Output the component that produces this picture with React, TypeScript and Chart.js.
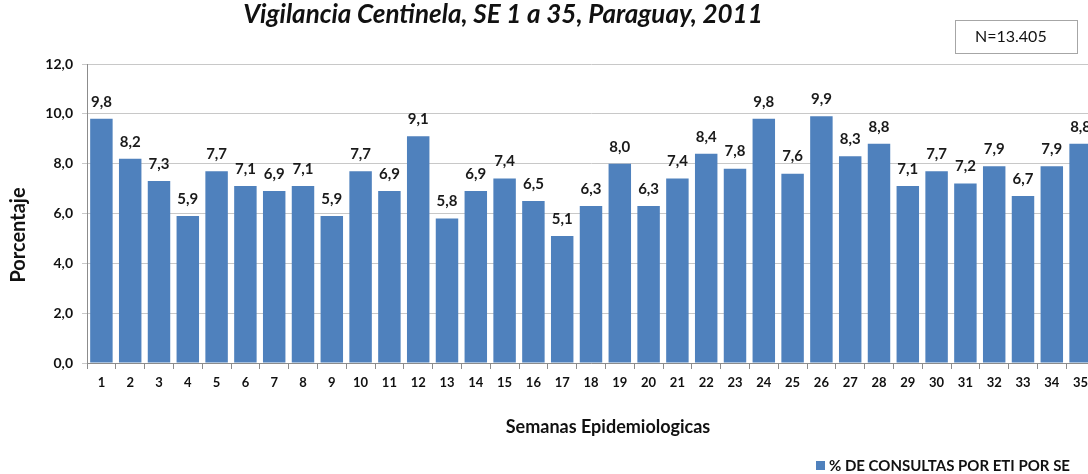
import React, { useEffect, useRef } from "react";
import { Chart, registerables } from "chart.js";

Chart.register(...registerables);

const categories = Array.from({ length: 35 }, (_, i) => String(i + 1));
const seriesValues = [
  9.8, 8.2, 7.3, 5.9, 7.7, 7.1, 6.9, 7.1, 5.9, 7.7, 6.9, 9.1, 5.8, 6.9, 7.4,
  6.5, 5.1, 6.3, 8.0, 6.3, 7.4, 8.4, 7.8, 9.8, 7.6, 9.9, 8.3, 8.8, 7.1, 7.7,
  7.2, 7.9, 6.7, 7.9, 8.8,
];
const seriesLabel = "% DE CONSULTAS POR ETI POR SE";
const titleText = "Vigilancia Centinela, SE 1 a 35, Paraguay, 2011";
const nText = "N=13.405";
const yTitle = "Porcentaje";
const xTitle = "Semanas Epidemiologicas";

const FONT = "Lato, 'Open Sans', sans-serif";
const BLUE = "#4F81BD";

const fmt = (v: number) => v.toFixed(1).replace(".", ",");

const decorPlugin = {
  id: "decor",
  afterDatasetsDraw(chart: any) {
    const ctx = chart.ctx;
    const meta = chart.getDatasetMeta(0);
    ctx.save();
    ctx.fillStyle = "#1a1a1a";
    ctx.font = `bold 15px ${FONT}`;
    ctx.textAlign = "center";
    ctx.textBaseline = "middle";
    meta.data.forEach((bar: any, i: number) => {
      ctx.fillText(fmt(seriesValues[i]), bar.x, bar.y - 17);
    });
    ctx.restore();
  },
  afterDraw(chart: any) {
    const ctx = chart.ctx;
    ctx.save();
    // title
    ctx.fillStyle = "#111";
    ctx.font = `italic bold 26px ${FONT}`;
    ctx.textAlign = "center";
    ctx.textBaseline = "middle";
    ctx.fillText(titleText, 503, 15);
    // N box
    ctx.fillStyle = "#fff";
    ctx.fillRect(955, 20, 122, 33);
    ctx.strokeStyle = "#a6a6a6";
    ctx.lineWidth = 1;
    ctx.strokeRect(955.5, 20.5, 122, 33);
    ctx.fillStyle = "#111";
    ctx.font = `16px ${FONT}`;
    ctx.textAlign = "left";
    ctx.fillText(nText, 975, 37);
    // y title
    ctx.save();
    ctx.translate(19, 235);
    ctx.rotate(-Math.PI / 2);
    ctx.font = `bold 20px ${FONT}`;
    ctx.textAlign = "center";
    ctx.fillText(yTitle, 0, 0);
    ctx.restore();
    // x title
    ctx.font = `bold 18px ${FONT}`;
    ctx.textAlign = "center";
    ctx.fillText(xTitle, 608, 427);
    // legend
    ctx.fillStyle = BLUE;
    ctx.fillRect(816, 461, 9, 9);
    ctx.fillStyle = "#111";
    ctx.font = `bold 15px ${FONT}`;
    ctx.textAlign = "left";
    ctx.fillText(seriesLabel, 829, 466);
    ctx.restore();
  },
};

export default function App() {
  const ref = useRef<HTMLCanvasElement>(null);
  useEffect(() => {
    if (!ref.current) return;
    const chart = new Chart(ref.current, {
      type: "bar",
      data: {
        labels: categories,
        datasets: [
          {
            label: seriesLabel,
            data: seriesValues,
            backgroundColor: BLUE,
            borderWidth: 0,
            categoryPercentage: 0.78,
            barPercentage: 1,
          },
        ],
      },
      options: {
        responsive: false,
        animation: false,
        devicePixelRatio: 1,
        layout: { padding: { top: 64, left: 0, right: 5, bottom: 0 } },
        plugins: {
          legend: { display: false },
          title: { display: false },
          tooltip: { enabled: false },
        },
        scales: {
          x: {
            grid: {
              display: true,
              drawOnChartArea: false,
              drawTicks: true,
              tickLength: 6,
              offset: true,
              color: "#8c8c8c",
            },
            border: { color: "#8c8c8c" },
            ticks: {
              color: "#111",
              font: { family: FONT, weight: "bold", size: 13 },
              padding: 6,
              maxRotation: 0,
              autoSkip: false,
            },
            afterFit(scale: any) {
              scale.height = 474 - 363;
            },
          },
          y: {
            min: 0,
            max: 12,
            ticks: {
              stepSize: 2,
              color: "#111",
              font: { family: FONT, weight: "bold", size: 14 },
              padding: 9,
              callback: (v: any) => fmt(Number(v)),
            },
            grid: { color: "#c8c8c8", tickLength: 5, drawTicks: true },
            border: { color: "#8c8c8c" },
            afterFit(scale: any) {
              scale.width = 87;
            },
          },
        },
      },
      plugins: [decorPlugin],
    });
    return () => chart.destroy();
  }, []);
  return (
    <div
      style={{
        position: "fixed",
        left: 0,
        top: 0,
        width: 1088,
        height: 474,
        overflow: "hidden",
        background: "#fff",
      }}
    >
      <canvas ref={ref} width={1100} height={474} style={{ display: "block" }} />
    </div>
  );
}
